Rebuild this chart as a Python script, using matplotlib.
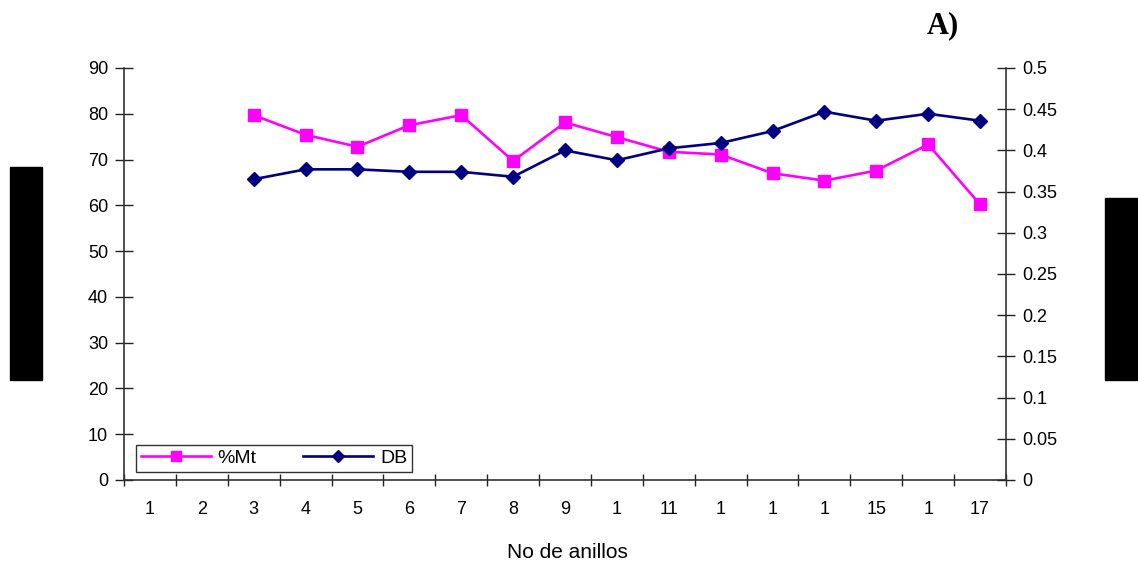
import matplotlib
matplotlib.use("Agg")
import matplotlib.pyplot as plt
from matplotlib.patches import Rectangle
import numpy as np

plt.rcParams['font.family'] = ['Liberation Sans', 'DejaVu Sans']

categories = list(range(1, 18))
tick_labels = ["1", "2", "3", "4", "5", "6", "7", "8", "9", "1", "11", "1", "1", "1", "15", "1", "17"]
mt_x = [3, 4, 5, 6, 7, 8, 9, 10, 11, 12, 13, 14, 15, 16, 17]
mt_values = [79.7, 75.4, 72.8, 77.5, 79.7, 69.7, 78.1, 74.9, 71.7, 71.1, 67.0, 65.4, 67.6, 73.3, 60.2]
db_x = [3, 4, 5, 6, 7, 8, 9, 10, 11, 12, 13, 14, 15, 16, 17]
db_values = [0.365, 0.377, 0.377, 0.374, 0.374, 0.368, 0.400, 0.388, 0.4025, 0.409, 0.4235, 0.447, 0.436, 0.4445, 0.436]

W, H = 1138, 569
fig = plt.figure(figsize=(W/100, H/100), dpi=100)
ax = fig.add_axes([124/W, 1-480/H, (1006-124)/W, (480-68)/H])
ax2 = ax.twinx()

l1, = ax.plot(mt_x, mt_values, color='#FF00FF', marker='s', markersize=8.5, lw=1.9, label='%Mt')
l2, = ax2.plot(db_x, db_values, color='#000080', marker='D', markersize=7, lw=1.9, label='DB')

ax.set_xlim(0.5, 17.5)
ax.set_ylim(0, 90)
ax2.set_ylim(0, 0.5)
ax.set_yticks(np.arange(0, 91, 10))
ax2.set_yticks(np.arange(0, 0.51, 0.05))
ax2.set_yticklabels(['0'] + [('%.2f' % v).rstrip('0').rstrip('.') for v in np.arange(0.05, 0.51, 0.05)])

ax.set_xticks(np.arange(0.5, 17.6, 1))
ax.set_xticklabels([])
ax.set_xticks(categories, minor=True)
ax.set_xticklabels(tick_labels, minor=True)
ax.tick_params(axis='x', which='major', direction='inout', length=9, width=1, color='#222222')
ax.tick_params(axis='x', which='minor', length=0, pad=15, labelsize=13)
ax.tick_params(axis='y', direction='inout', length=13, width=1, color='#222222', labelsize=13, pad=5)
ax2.tick_params(axis='y', direction='inout', length=13, width=1, color='#222222', labelsize=13, pad=5)

for a in (ax, ax2):
    a.spines['top'].set_visible(False)
    for s in a.spines.values():
        s.set_color('#333333')
        s.set_linewidth(1.2)
ax.spines['right'].set_visible(False)
ax2.spines['left'].set_visible(False)
ax2.spines['bottom'].set_visible(False)

fig.text(567/W, 1-553/H, 'No de anillos', ha='center', va='center', fontsize=15)
fig.text(927/W, 1-33/H, 'A)', ha='left', va='baseline', fontsize=22, fontweight='bold', family='Liberation Serif')

leg = ax.legend(handles=[l1, l2], ncol=2, loc='lower left',
                bbox_to_anchor=(136/W, 1-472/H),
                bbox_transform=fig.transFigure, fontsize=14,
                frameon=True, fancybox=False, borderpad=0.25, handlelength=3.6,
                columnspacing=2.4, handletextpad=0.35, borderaxespad=0)
leg.get_frame().set_edgecolor('black')
leg.get_frame().set_linewidth(1)
for h in leg.legend_handles:
    h.set_markersize(6.5)

fig.patches.append(Rectangle((10/W, 1-380/H), 32/W, 213/H, transform=fig.transFigure, color='black'))
fig.patches.append(Rectangle((1105/W, 1-380/H), 32/W, 182/H, transform=fig.transFigure, color='black'))

fig.savefig('out.png', dpi=100)
